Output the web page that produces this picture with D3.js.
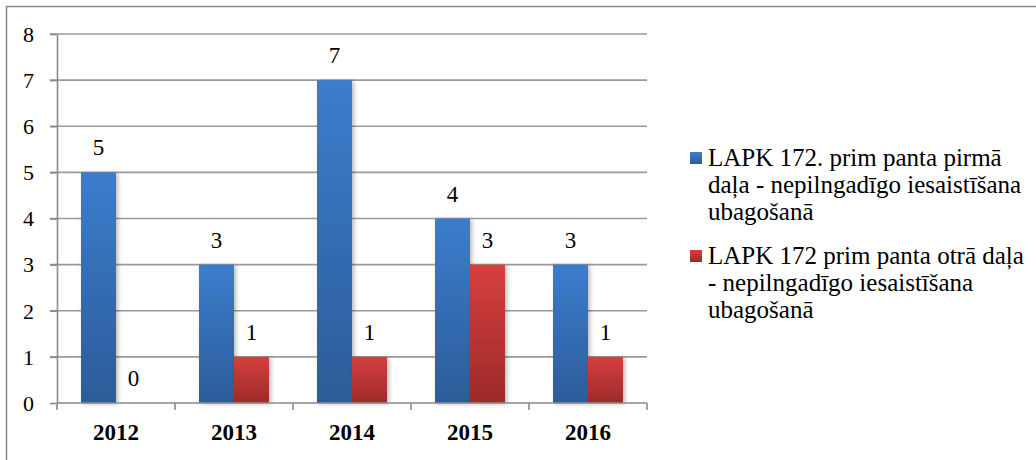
<!DOCTYPE html>
<html><head><meta charset="utf-8">
<script src="https://cdn.jsdelivr.net/npm/d3@7/dist/d3.min.js"></script>
<style>
html,body{margin:0;padding:0;background:#fff;}
svg{display:block;}
text{font-family:"Liberation Serif","Times New Roman",serif;fill:#000;}
</style></head>
<body>
<svg id="c" width="1036" height="460"></svg>
<script>
const categories = ["2012","2013","2014","2015","2016"];
const seriesNames = [
  "LAPK 172. prim panta pirmā daļa - nepilngadīgo iesaistīšana ubagošanā",
  "LAPK 172 prim panta otrā daļa - nepilngadīgo iesaistīšana ubagošanā"
];
const legendLines = [
  ["LAPK 172. prim panta pirmā", "daļa - nepilngadīgo iesaistīšana", "ubagošanā"],
  ["LAPK 172 prim panta otrā daļa", "- nepilngadīgo iesaistīšana", "ubagošanā"]
];
const series1 = [5,3,7,4,3];
const series2 = [0,1,1,3,1];
const yTicks = [0,1,2,3,4,5,6,7,8];

(function(){
const svg = d3.select("#c");
const defs = svg.append("defs");
function grad(id, c1, c2){
  const g = defs.append("linearGradient").attr("id",id).attr("x1",0).attr("y1",0).attr("x2",0).attr("y2",1);
  g.append("stop").attr("offset","0%").attr("stop-color",c1);
  g.append("stop").attr("offset","100%").attr("stop-color",c2);
}
grad("gBlue","#3b7dcd","#2c5c99");
grad("gRed","#d53f3d","#9d2a29");
const f = defs.append("filter").attr("id","sh").attr("x","-30%").attr("y","-10%").attr("width","170%").attr("height","130%");
f.append("feDropShadow").attr("dx",2).attr("dy",1).attr("stdDeviation",2).attr("flood-color","#000").attr("flood-opacity",0.28);

// outer frame (cropped right/bottom)
svg.append("path").attr("d","M6.5,470V6.5H1040").attr("fill","none").attr("stroke","#8a8a8a").attr("stroke-width",1.5);

const pL=57, pR=647, pT=34, pB=403;
const y = d3.scaleLinear().domain([0,8]).range([pB, pT]);
const x0 = d3.scaleBand().domain(categories).range([pL,pR]).padding(0);
const x1 = d3.scaleBand().domain([0,1]).range([0,x0.bandwidth()]).paddingInner(0).paddingOuter(0.686);

// gridlines
svg.append("g").selectAll("line").data(yTicks.slice(1)).join("line")
  .attr("x1",pL-7).attr("x2",pR).attr("y1",d=>y(d)).attr("y2",d=>y(d))
  .attr("stroke","#9a9a9a").attr("stroke-width",1.6);

// y axis
const yAxis = svg.append("g").attr("transform",`translate(${pL},0)`)
  .call(d3.axisLeft(y).tickValues(yTicks).tickSize(7).tickPadding(16).tickSizeOuter(0));
yAxis.attr("font-family",null).attr("font-size",null);
yAxis.select(".domain").attr("stroke","#8a8a8a").attr("stroke-width",1.6);
yAxis.selectAll(".tick line").attr("stroke","#8a8a8a").attr("stroke-width",1.6);
yAxis.selectAll(".tick text").attr("font-size",22).attr("fill","#000").attr("dy","0.33em");

// bars
const data = categories.map((c,i)=>({c, v:[series1[i], series2[i]]}));
const fills = ["url(#gBlue)","url(#gRed)"];
const groups = svg.append("g").selectAll("g").data(data).join("g")
  .attr("transform",d=>`translate(${x0(d.c)},0)`);
groups.selectAll("rect").data(d=>d.v.map((v,k)=>({v,k}))).join("rect")
  .attr("x",d=>x1(d.k)).attr("width",x1.bandwidth())
  .attr("y",d=>y(d.v)).attr("height",d=>y(0)-y(d.v))
  .attr("fill",d=>fills[d.k]).attr("filter",d=>d.v>0?"url(#sh)":null);
groups.selectAll("text").data(d=>d.v.map((v,k)=>({v,k}))).join("text")
  .attr("x",d=>x1(d.k)+x1.bandwidth()/2).attr("y",d=>y(d.v)-17)
  .attr("text-anchor","middle").attr("font-size",23).text(d=>d.v);

// x axis
const xAxisG = svg.append("g").attr("transform",`translate(0,${pB})`);
xAxisG.append("line").attr("x1",pL).attr("x2",pR).attr("stroke","#8a8a8a").attr("stroke-width",1.6);
const bounds = categories.map(c=>x0(c)).concat([pR]);
xAxisG.selectAll("line.t").data(bounds).join("line").attr("class","t")
  .attr("x1",d=>d).attr("x2",d=>d).attr("y1",0).attr("y2",7).attr("stroke","#8a8a8a").attr("stroke-width",1.6);
xAxisG.selectAll("text").data(categories).join("text")
  .attr("x",d=>x0(d)+x0.bandwidth()/2).attr("y",37)
  .attr("text-anchor","middle").attr("font-size",23).attr("font-weight","bold").text(d=>d);

// legend
const legY = [166, 264];
const legColors = ["url(#gBlue)","url(#gRed)"];
seriesNames.forEach((n,i)=>{
  const g = svg.append("g");
  g.append("rect").attr("x",690).attr("y",legY[i]-14).attr("width",12).attr("height",12).attr("fill",legColors[i]);
  const t = g.append("text").attr("x",708).attr("y",legY[i]).attr("font-size",25);
  legendLines[i].forEach((l,j)=>{
    t.append("tspan").attr("x",708).attr("dy",j===0?0:27).text(l);
  });
});
})();
</script>
</body></html>
